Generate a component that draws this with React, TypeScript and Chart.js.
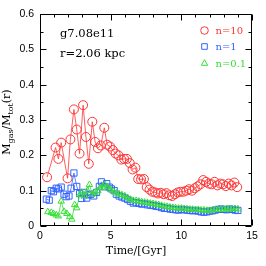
import React, { useEffect, useRef } from 'react';
import { Chart, registerables } from 'chart.js';
Chart.register(...registerables);

const xTicks = [0, 5, 10, 15];
const yTicks = [0, 0.1, 0.2, 0.3, 0.4, 0.5, 0.6];
const seriesNames = ['n=10', 'n=1', 'n=0.1'];

const redT = [0.5, 1.1, 1.3, 1.5, 1.95, 2.15, 2.4, 2.6, 2.8, 3.05, 3.25, 3.45, 3.7, 3.9, 4.1, 4.3, 4.55, 4.75, 4.95, 5.15, 5.35, 5.55, 5.75, 5.95, 6.15, 6.35, 6.55, 6.75, 6.95, 7.15, 7.35, 7.55, 7.75, 7.95, 8.15, 8.35, 8.55, 8.75, 8.95, 9.15, 9.35, 9.55, 9.75, 9.95, 10.15, 10.35, 10.55, 10.75, 10.95, 11.15, 11.35, 11.55, 11.75, 11.95, 12.15, 12.35, 12.55, 12.75, 12.95, 13.15, 13.35, 13.55, 13.75, 13.95];
const redV = [0.138, 0.222, 0.19, 0.236, 0.135, 0.245, 0.33, 0.273, 0.205, 0.342, 0.252, 0.176, 0.295, 0.238, 0.22, 0.228, 0.278, 0.23, 0.225, 0.215, 0.205, 0.2, 0.188, 0.19, 0.19, 0.178, 0.16, 0.165, 0.133, 0.132, 0.133, 0.11, 0.103, 0.097, 0.095, 0.092, 0.094, 0.09, 0.093, 0.087, 0.085, 0.09, 0.095, 0.097, 0.097, 0.1, 0.104, 0.1, 0.107, 0.112, 0.118, 0.13, 0.125, 0.12, 0.118, 0.125, 0.115, 0.12, 0.118, 0.113, 0.12, 0.115, 0.123, 0.11];

const blueT = [0.45, 0.65, 0.8, 0.95, 1.15, 1.3, 1.5, 1.7, 1.85, 2.05, 2.2, 2.4, 2.6, 2.8, 2.95, 3.1, 3.3, 3.45, 3.6, 3.8, 4.0, 4.2, 4.35, 4.55, 4.72, 4.9, 5.05, 5.25, 5.4, 5.6, 5.8, 6.0, 6.2, 6.4, 6.6, 6.8, 7.0, 7.2, 7.4, 7.6, 7.8, 8.0, 8.2, 8.4, 8.6, 8.8, 9.0, 9.2, 9.4, 9.6, 9.8, 10.0, 10.2, 10.4, 10.6, 10.8, 11.0, 11.2, 11.4, 11.6, 11.8, 12.0, 12.2, 12.4, 12.6, 12.8, 13.0, 13.2, 13.4, 13.6, 13.8, 14.0];
const blueV = [0.076, 0.073, 0.1, 0.097, 0.107, 0.105, 0.11, 0.09, 0.083, 0.085, 0.107, 0.15, 0.112, 0.092, 0.078, 0.095, 0.079, 0.088, 0.09, 0.085, 0.095, 0.112, 0.125, 0.111, 0.12, 0.11, 0.105, 0.1, 0.09, 0.085, 0.082, 0.079, 0.075, 0.07, 0.065, 0.066, 0.064, 0.062, 0.063, 0.06, 0.059, 0.058, 0.056, 0.055, 0.052, 0.05, 0.05, 0.048, 0.047, 0.046, 0.045, 0.047, 0.046, 0.045, 0.044, 0.043, 0.044, 0.042, 0.04, 0.039, 0.04, 0.042, 0.043, 0.045, 0.047, 0.048, 0.047, 0.046, 0.048, 0.047, 0.045, 0.044];

const greenT = [0.55, 0.8, 0.95, 1.15, 1.3, 1.5, 1.7, 1.9, 2.1, 2.25, 2.45, 2.6, 2.8, 2.95, 3.15, 3.35, 3.5, 3.7, 3.9, 4.1, 4.25, 4.45, 4.6, 4.8, 5.0, 5.2, 5.4, 5.6, 5.8, 6.0, 6.2, 6.4, 6.6, 6.8, 7.0, 7.2, 7.4, 7.6, 7.8, 8.0, 8.2, 8.4, 8.6, 8.8, 9.0, 9.2, 9.4, 9.6, 9.8, 10.0, 10.2, 10.4, 10.6, 10.8, 11.0, 11.2, 11.4, 11.6, 11.8, 12.0, 12.2, 12.4, 12.6, 12.8, 13.0, 13.2, 13.4, 13.6, 13.8, 14.0];
const greenV = [0.04, 0.038, 0.035, 0.031, 0.028, 0.07, 0.041, 0.035, 0.026, 0.019, 0.06, 0.051, 0.088, 0.095, 0.085, 0.1, 0.117, 0.09, 0.095, 0.1, 0.108, 0.113, 0.117, 0.11, 0.103, 0.098, 0.093, 0.09, 0.088, 0.085, 0.08, 0.075, 0.072, 0.072, 0.07, 0.068, 0.067, 0.066, 0.064, 0.063, 0.061, 0.06, 0.058, 0.056, 0.055, 0.053, 0.052, 0.051, 0.05, 0.05, 0.049, 0.048, 0.047, 0.047, 0.046, 0.046, 0.045, 0.045, 0.044, 0.044, 0.045, 0.046, 0.046, 0.047, 0.047, 0.048, 0.048, 0.048, 0.049, 0.048];

const RED = '#ff3535';
const BLUE = '#3564ff';
const GREEN = '#35e035';

function toPts(t: number[], v: number[]) {
  return t.map((x, i) => ({ x, y: v[i] }));
}

export default function App() {
  const ref = useRef<HTMLCanvasElement>(null);
  useEffect(() => {
    document.body.style.margin = '0';
    const canvas = ref.current!;
    const decor = {
      id: 'decor',
      afterDraw(chart: any) {
        const { ctx, chartArea: a, scales } = chart;
        const xs = scales.x;
        const ys = scales.y;
        const L = Math.round(a.left) + 0.5;
        const R = Math.round(a.right) - 0.5;
        const T = Math.round(a.top) + 0.5;
        const B = Math.round(a.bottom) - 0.5;
        ctx.save();
        ctx.strokeStyle = '#000';
        ctx.lineWidth = 1;
        ctx.beginPath();
        ctx.rect(L, T, R - L, B - T);
        for (let t = 0; t <= 15; t += 1) {
          const px = Math.round(xs.getPixelForValue(t)) + 0.5;
          const len = t % 5 === 0 ? 6 : 3;
          ctx.moveTo(px, B); ctx.lineTo(px, B - len);
          ctx.moveTo(px, T); ctx.lineTo(px, T + len);
        }
        for (let i = 0; i <= 12; i++) {
          const v = i * 0.05;
          const py = Math.round(ys.getPixelForValue(v)) + 0.5;
          const len = i % 2 === 0 ? 6 : 3;
          ctx.moveTo(L, py); ctx.lineTo(L + len, py);
          ctx.moveTo(R, py); ctx.lineTo(R - len, py);
        }
        ctx.stroke();

        ctx.fillStyle = '#000';
        ctx.font = '11.5px "DejaVu Serif"';
        ctx.textAlign = 'left';
        ctx.textBaseline = 'alphabetic';
        ctx.fillText('g7.08e11', 60, 36.5);
        ctx.fillText('r=2.06 kpc', 60, 56.5);

        ctx.font = '11px "DejaVu Serif"';
        ctx.textAlign = 'center';
        ctx.fillText('Time/[Gyr]', 136, 254);

        const parts: [string, boolean][] = [['M', false], ['gas', true], ['/M', false], ['tot', true], ['(r)', false]];
        const mainF = '11px "DejaVu Serif"';
        const subF = '8px "DejaVu Serif"';
        let total = 0;
        for (const [s, sub] of parts) { ctx.font = sub ? subF : mainF; total += ctx.measureText(s).width; }
        ctx.translate(10, 122);
        ctx.rotate(-Math.PI / 2);
        ctx.textAlign = 'left';
        let x = -total / 2;
        for (const [s, sub] of parts) {
          ctx.font = sub ? subF : mainF;
          ctx.fillText(s, x, sub ? 2.5 : 0);
          x += ctx.measureText(s).width;
        }
        ctx.setTransform(1, 0, 0, 1, 0, 0);

        const cols = [RED, BLUE, GREEN];
        const ly = [30.5, 46.5, 63];
        const lb = [33.5, 49.5, 66.5];
        ctx.lineWidth = 1;
        ctx.font = '10px "DejaVu Serif"';
        ctx.textAlign = 'left';
        for (let i = 0; i < 3; i++) {
          ctx.strokeStyle = cols[i];
          ctx.fillStyle = cols[i];
          const cx = 204.5;
          const cy = ly[i];
          ctx.beginPath();
          if (i === 0) {
            ctx.arc(cx, cy, 3.8, 0, Math.PI * 2);
          } else if (i === 1) {
            ctx.rect(cx - 2.8, cy - 2.8, 5.6, 5.6);
          } else {
            ctx.moveTo(cx, cy - 3.3);
            ctx.lineTo(cx + 3.2, cy + 2.3);
            ctx.lineTo(cx - 3.2, cy + 2.3);
            ctx.closePath();
          }
          ctx.stroke();
          ctx.fillText(seriesNames[i], 215.5, lb[i]);
        }
        ctx.restore();
      },
    };

    const mk = (label: string, t: number[], v: number[], color: string, style: string, r: number) => ({
      label,
      data: toPts(t, v),
      showLine: true,
      borderColor: color,
      backgroundColor: 'transparent',
      borderWidth: 0.8,
      pointBorderWidth: 1,
      pointBorderColor: color,
      pointBackgroundColor: 'transparent',
      pointStyle: style,
      pointRadius: r,
      pointHoverRadius: r,
    });

    const chart = new Chart(canvas, {
      type: 'scatter',
      data: {
        datasets: [
          mk(seriesNames[2], greenT, greenV, GREEN, 'triangle', 3.7),
          mk(seriesNames[1], blueT, blueV, BLUE, 'rect', 4.4),
          mk(seriesNames[0], redT, redV, RED, 'circle', 4.5),
        ],
      },
      plugins: [decor],
      options: {
        responsive: false,
        animation: false,
        events: [],
        layout: { padding: { left: 0, top: 14, right: 14, bottom: 0 } },
        plugins: { legend: { display: false }, tooltip: { enabled: false } },
        scales: {
          x: {
            type: 'linear',
            min: 0,
            max: 15,
            afterFit: (s: any) => { s.height = 40; },
            afterBuildTicks: (s: any) => { s.ticks = xTicks.map((value) => ({ value })); },
            grid: { display: false, drawTicks: false },
            border: { display: false },
            ticks: { padding: 4, color: '#000', font: { family: '"Liberation Sans"', size: 10.5 }, maxRotation: 0, callback: (v: any) => String(v) },
          },
          y: {
            type: 'linear',
            min: 0,
            max: 0.6,
            afterFit: (s: any) => { s.width = 40; },
            afterBuildTicks: (s: any) => { s.ticks = yTicks.map((value) => ({ value })); },
            grid: { display: false, drawTicks: false },
            border: { display: false },
            ticks: { padding: 6, color: '#000', font: { family: '"Liberation Sans"', size: 10.5 }, callback: (v: any) => (Number(v) === 0 ? '0' : Number(v).toFixed(1)) },
          },
        },
      },
    } as any);
    return () => chart.destroy();
  }, []);
  return (
    <div style={{ position: 'absolute', left: 0, top: 0, width: 266, height: 266, background: '#fff' }}>
      <canvas ref={ref} width={266} height={266} />
    </div>
  );
}
